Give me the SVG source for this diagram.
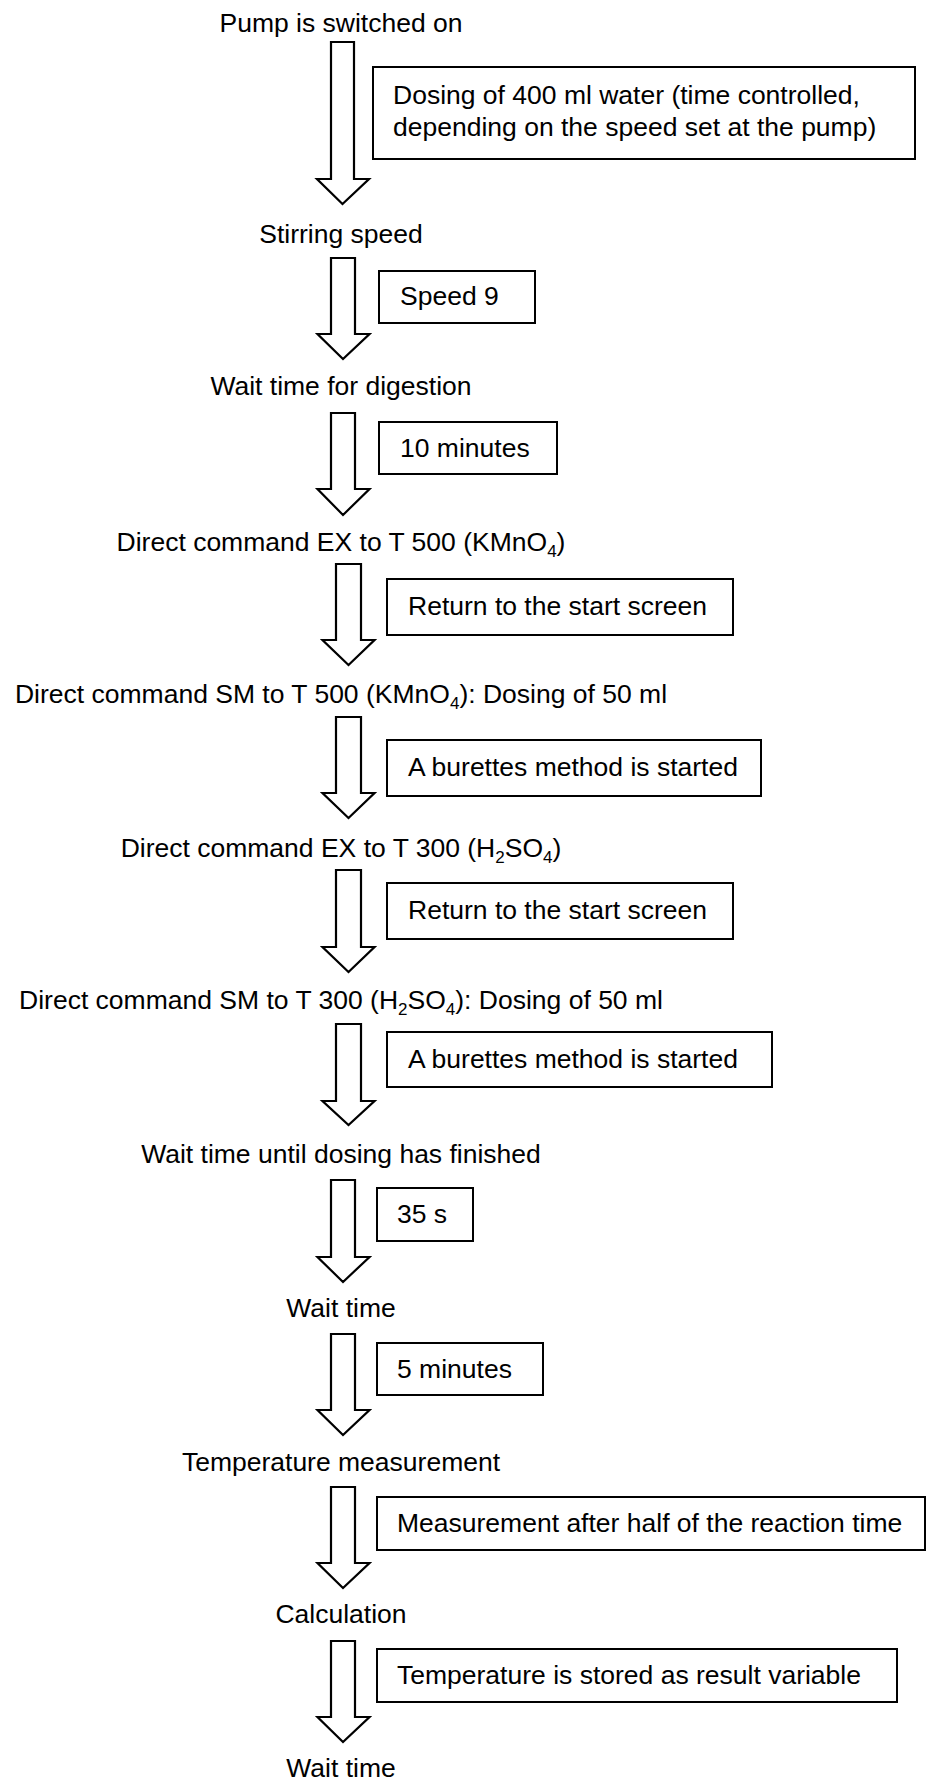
<svg xmlns="http://www.w3.org/2000/svg" width="927" height="1780" viewBox="0 0 927 1780">
<style>
text{font-family:"Liberation Sans",Arial,sans-serif;font-size:26.5px;fill:#000}
.lbl{text-anchor:middle}
.box{fill:#fff;stroke:#000;stroke-width:2}
.arr{fill:#fff;stroke:#000;stroke-width:2.2;stroke-linejoin:miter}
.sub{font-size:17px}
</style>
<rect width="927" height="1780" fill="#fff"/>
<g id="connectors">
<path class="arr" d="M331,42 H354 V179 H369 L342.5,204 L317,179 H331 Z"/>
<path class="arr" d="M331,258 H355 V334 H369.5 L343,359 L317.5,334 H331 Z"/>
<path class="arr" d="M331,413 H355 V489 H369.5 L343,515 L317.5,489 H331 Z"/>
<path class="arr" d="M336,564 H361 V640 H374.5 L348.5,665 L322.5,640 H336 Z"/>
<path class="arr" d="M336,717 H361 V793 H374.5 L348.5,818 L322.5,793 H336 Z"/>
<path class="arr" d="M336,870 H361 V947 H374.5 L348.5,972 L322.5,947 H336 Z"/>
<path class="arr" d="M336,1024 H361 V1101 H374.5 L348.5,1125 L322.5,1101 H336 Z"/>
<path class="arr" d="M331,1180 H355 V1257 H369.5 L343,1282 L317.5,1257 H331 Z"/>
<path class="arr" d="M331,1334 H355 V1410 H369.5 L343,1435 L317.5,1410 H331 Z"/>
<path class="arr" d="M331,1487 H355 V1563 H369.5 L343,1588 L317.5,1563 H331 Z"/>
<path class="arr" d="M331,1641 H355 V1717 H369.5 L343,1742 L317.5,1717 H331 Z"/>
</g>
<g id="step1"><text class="lbl" x="341" y="32">Pump is switched on</text></g>
<g id="note1"><rect class="box" x="373" y="67" width="542" height="92"/>
<text x="393" y="104">Dosing of 400 ml water (time controlled,</text>
<text x="393" y="136">depending on the speed set at the pump)</text></g>
<g id="step2"><text class="lbl" x="341" y="243">Stirring speed</text></g>
<g id="note2"><rect class="box" x="379" y="271" width="156" height="52"/><text x="400" y="305">Speed 9</text></g>
<g id="step3"><text class="lbl" x="341" y="395">Wait time for digestion</text></g>
<g id="note3"><rect class="box" x="379" y="422" width="178" height="52"/><text x="400" y="457">10 minutes</text></g>
<g id="step4"><text class="lbl" x="341" y="551">Direct command EX to T 500 (KMnO<tspan class="sub" dy="6">4</tspan><tspan dy="-6">)</tspan></text></g>
<g id="note4"><rect class="box" x="387" y="579" width="346" height="56"/><text x="408" y="615">Return to the start screen</text></g>
<g id="step5"><text class="lbl" x="341" y="703">Direct command SM to T 500 (KMnO<tspan class="sub" dy="6">4</tspan><tspan dy="-6">): Dosing of 50 ml</tspan></text></g>
<g id="note5"><rect class="box" x="387" y="740" width="374" height="56"/><text x="408" y="776">A burettes method is started</text></g>
<g id="step6"><text class="lbl" x="341" y="857">Direct command EX to T 300 (H<tspan class="sub" dy="6">2</tspan><tspan dy="-6">SO</tspan><tspan class="sub" dy="6">4</tspan><tspan dy="-6">)</tspan></text></g>
<g id="note6"><rect class="box" x="387" y="883" width="346" height="56"/><text x="408" y="919">Return to the start screen</text></g>
<g id="step7"><text class="lbl" x="341" y="1009">Direct command SM to T 300 (H<tspan class="sub" dy="6">2</tspan><tspan dy="-6">SO</tspan><tspan class="sub" dy="6">4</tspan><tspan dy="-6">): Dosing of 50 ml</tspan></text></g>
<g id="note7"><rect class="box" x="387" y="1032" width="385" height="55"/><text x="408" y="1068">A burettes method is started</text></g>
<g id="step8"><text class="lbl" x="341" y="1163">Wait time until dosing has finished</text></g>
<g id="note8"><rect class="box" x="377" y="1188" width="96" height="53"/><text x="397" y="1223">35 s</text></g>
<g id="step9"><text class="lbl" x="341" y="1317">Wait time</text></g>
<g id="note9"><rect class="box" x="377" y="1343" width="166" height="52"/><text x="397" y="1378">5 minutes</text></g>
<g id="step10"><text class="lbl" x="341" y="1471">Temperature measurement</text></g>
<g id="note10"><rect class="box" x="377" y="1497" width="548" height="53"/><text x="397" y="1532">Measurement after half of the reaction time</text></g>
<g id="step11"><text class="lbl" x="341" y="1623">Calculation</text></g>
<g id="note11"><rect class="box" x="377" y="1649" width="520" height="53"/><text x="397" y="1684">Temperature is stored as result variable</text></g>
<g id="step12"><text class="lbl" x="341" y="1777">Wait time</text></g>
</svg>
